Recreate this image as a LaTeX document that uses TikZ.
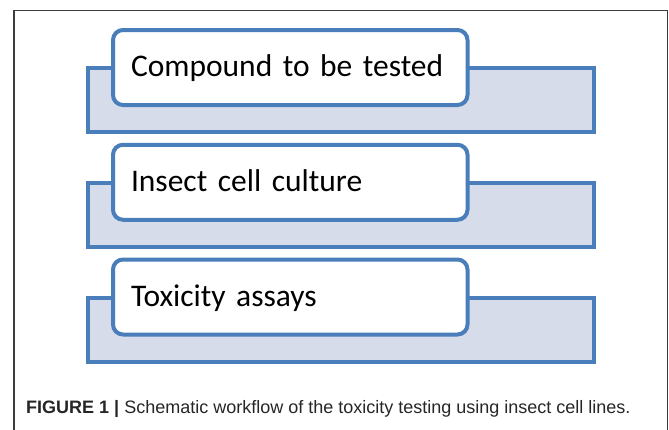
\documentclass[tikz,border=0pt]{standalone}
\usepackage{fontspec}
\setmainfont{Carlito}
\newfontfamily\boxfont{Carlito}[WordSpace=0.7]
\newfontfamily\capfont{Liberation Sans}
\usetikzlibrary{positioning}

\definecolor{stepblue}{RGB}{74,126,187}
\definecolor{stepfill}{RGB}{214,220,233}
\definecolor{framegray}{RGB}{60,60,60}

\tikzset{
  backbox/.style={draw=stepblue, fill=stepfill, line width=4pt, minimum width=506pt, minimum height=64pt, inner sep=0pt},
  frontbox/.style={draw=stepblue, fill=white, line width=4pt, rounded corners=10pt, minimum width=354.5pt, minimum height=75pt,
    text width=318.5pt, align=left, inner xsep=18pt, inner ysep=0pt, text height=24.4pt, text depth=6pt,
    font=\boxfont\fontsize{31.5}{36}\selectfont}
}

\begin{document}
\begin{tikzpicture}[x=1pt,y=-1pt]
  \useasboundingbox (0,0) rectangle (669,429);
  \draw[framegray, line width=1.2pt] (14,440) -- (14,10.7) -- (667.7,10.7) -- (667.7,440);

  \foreach \i/\txt in {1/Compound to be tested, 2/Insect cell culture, 3/Toxicity assays} {
    \node[backbox] (back\i) at (340.5, {100+(\i-1)*114.75}) {};
    \node[frontbox] (front\i) at (290.25, {67.5+(\i-1)*114.75}) {\txt};
  }

  \node[anchor=base west, inner sep=0pt, text=black!85, font=\capfont\fontsize{18}{21}\selectfont] (caption) at (26,413)
    {\textbf{FIGURE 1 |} Schematic workflow of the toxicity testing using insect cell lines.};
\end{tikzpicture}
\end{document}
